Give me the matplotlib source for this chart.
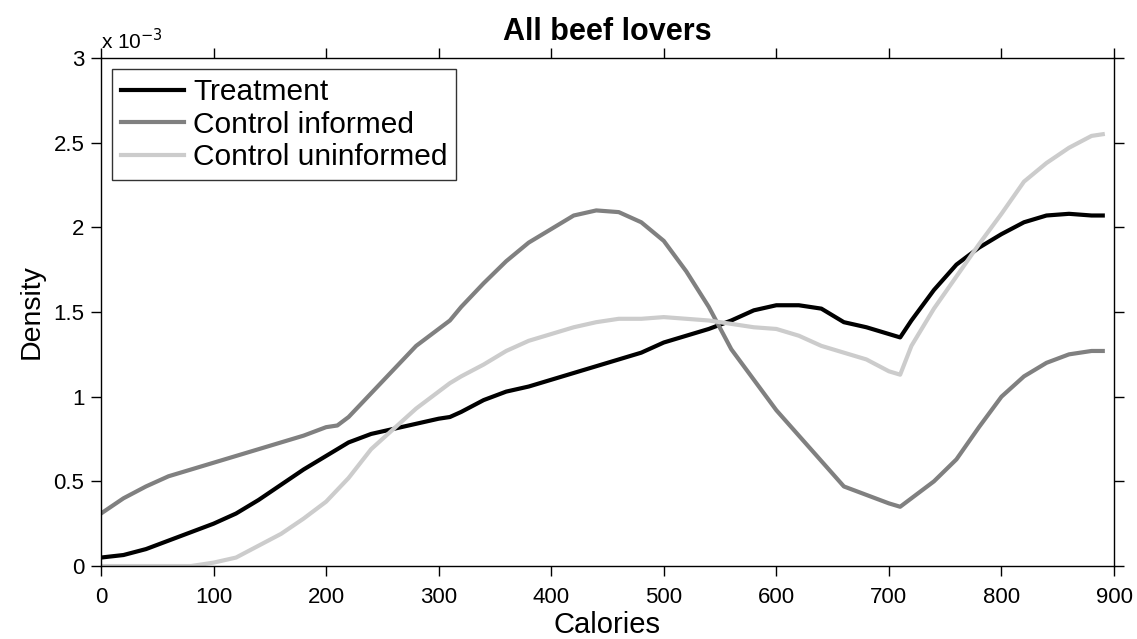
import numpy as np
import matplotlib.pyplot as plt
from matplotlib.ticker import FuncFormatter

plt.rcParams['font.family'] = ['Liberation Sans', 'DejaVu Sans']

# calories grid and densities (units of 1e-3)
cal = [0, 20, 40, 60, 80, 100, 120, 140, 160, 180, 200, 210, 220, 240, 260, 280, 300, 310,
       320, 340, 360, 380, 400, 420, 440, 460, 480, 500, 520, 540, 560, 580, 600, 620,
       640, 660, 680, 700, 710, 720, 740, 760, 780, 800, 820, 840, 860, 880, 890]

treat = [0.05, 0.065, 0.10, 0.15, 0.20, 0.25, 0.31, 0.39, 0.48, 0.57, 0.65, 0.69, 0.73,
         0.78, 0.81, 0.84, 0.87, 0.88, 0.91, 0.98, 1.03, 1.06, 1.10, 1.14, 1.18, 1.22,
         1.26, 1.32, 1.36, 1.40, 1.45, 1.51, 1.54, 1.54, 1.52, 1.44, 1.41, 1.37, 1.35,
         1.45, 1.63, 1.78, 1.88, 1.96, 2.03, 2.07, 2.08, 2.07, 2.07]

ctrl_inf = [0.31, 0.40, 0.47, 0.53, 0.57, 0.61, 0.65, 0.69, 0.73, 0.77, 0.82, 0.83, 0.88,
            1.02, 1.16, 1.30, 1.40, 1.45, 1.53, 1.67, 1.80, 1.91, 1.99, 2.07, 2.10, 2.09,
            2.03, 1.92, 1.74, 1.53, 1.28, 1.10, 0.92, 0.77, 0.62, 0.47, 0.42, 0.37, 0.35,
            0.40, 0.50, 0.63, 0.82, 1.00, 1.12, 1.20, 1.25, 1.27, 1.27]

ctrl_uninf = [0.0, 0.0, 0.0, 0.0, 0.0, 0.02, 0.05, 0.12, 0.19, 0.28, 0.38, 0.45, 0.52,
              0.69, 0.81, 0.93, 1.03, 1.08, 1.12, 1.19, 1.27, 1.33, 1.37, 1.41, 1.44, 1.46,
              1.46, 1.47, 1.46, 1.45, 1.43, 1.41, 1.40, 1.36, 1.30, 1.26, 1.22, 1.15, 1.13,
              1.30, 1.52, 1.71, 1.90, 2.08, 2.27, 2.38, 2.47, 2.54, 2.55]

labels = ['Treatment', 'Control informed', 'Control uninformed']
colors = ['black', '#808080', '#cccccc']

fig = plt.figure(figsize=(11.37, 6.39), dpi=100)
ax = fig.add_axes([0.0888, 0.1142, 0.891, 0.795])

for ys, lab, c in zip([treat, ctrl_inf, ctrl_uninf], labels, colors):
    ax.plot(cal, np.array(ys) * 1e-3, color=c, lw=3, label=lab)

ax.set_xlim(0, 900)
ax.set_ylim(0, 3e-3)
ax.set_xticks(np.arange(0, 901, 100))
ax.set_yticks(np.arange(0, 3.01e-3, 0.5e-3))
ax.yaxis.set_major_formatter(FuncFormatter(lambda v, p: '%g' % round(v * 1e3, 3)))
ax.tick_params(direction='out', top=True, right=True, length=7, width=1, labelsize=16)
ax.tick_params(axis='x', pad=8)
ax.tick_params(axis='y', pad=5)
for s in ax.spines.values():
    s.set_linewidth(1)

ax.text(0.0, 1.01, 'x 10$^{-3}$', transform=ax.transAxes, fontsize=15, va='bottom', ha='left')
ax.set_title('All beef lovers', fontsize=22, fontweight='bold', pad=13)
ax.set_xlabel('Calories', fontsize=21, labelpad=2)
ax.set_ylabel('Density', fontsize=20.5, labelpad=6)

leg = ax.legend(loc='upper left', fontsize=21.5, frameon=True, fancybox=False,
                edgecolor='black', handlelength=2.1, borderaxespad=0.38,
                labelspacing=0.15, handletextpad=0.3, borderpad=0.3)
leg.get_frame().set_linewidth(1)

fig.savefig('out.png', dpi=100)
